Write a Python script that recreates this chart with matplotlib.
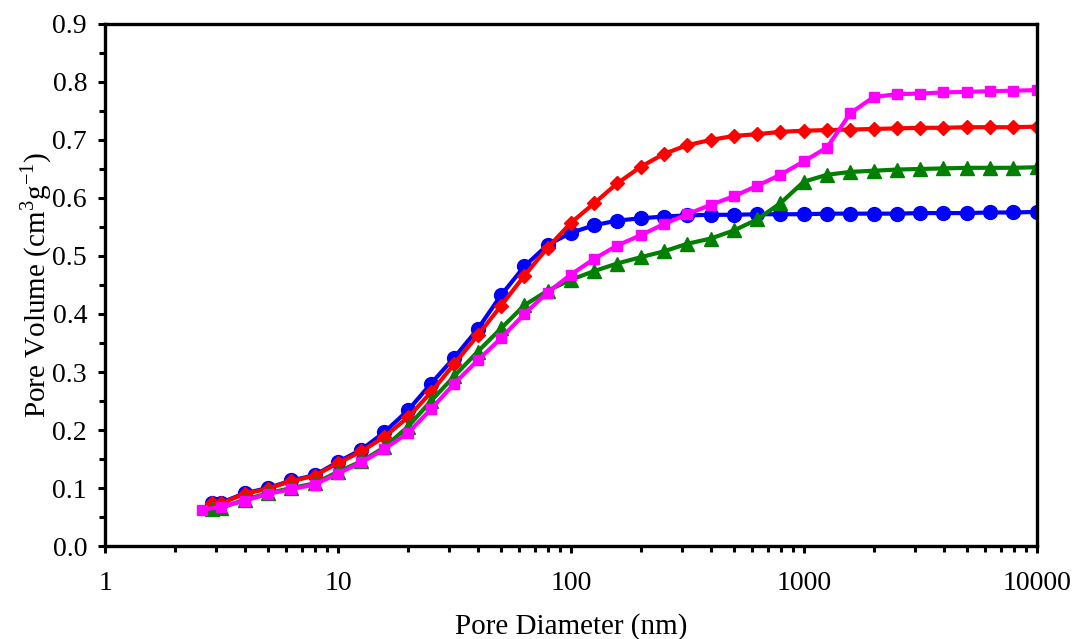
import numpy as np
import matplotlib
matplotlib.use("Agg")
import matplotlib.pyplot as plt
from matplotlib.ticker import MultipleLocator, LogLocator, NullFormatter, FixedLocator

plt.rcParams['font.family'] = ['Liberation Serif', 'DejaVu Serif']
plt.rcParams['mathtext.fontset'] = 'custom'
plt.rcParams['mathtext.rm'] = 'Liberation Serif'

# pore diameters (nm), 10 points per decade from 3.16 to 10000
diam = [3.16, 3.98, 5.01, 6.31, 7.94, 10, 12.6, 15.8, 20.0, 25.1, 31.6, 39.8,
        50.1, 63.1, 79.4, 100, 126, 158, 200, 251, 316, 398, 501, 631, 794,
        1000, 1259, 1585, 1995, 2512, 3162, 3981, 5012, 6310, 7943, 10000]

blue_x = [2.87] + diam
blue_y = [0.075, 0.075, 0.091, 0.100, 0.113, 0.122, 0.145, 0.166, 0.196, 0.234,
          0.280, 0.325, 0.374, 0.432, 0.482, 0.519, 0.540, 0.553, 0.561, 0.565,
          0.568, 0.570, 0.571, 0.571, 0.572, 0.572, 0.572, 0.573, 0.573, 0.573,
          0.573, 0.574, 0.574, 0.574, 0.575, 0.575, 0.576]

red_x = [2.87] + diam
red_y = [0.074, 0.074, 0.090, 0.099, 0.112, 0.121, 0.143, 0.163, 0.188, 0.222,
         0.265, 0.314, 0.363, 0.414, 0.466, 0.514, 0.557, 0.591, 0.625, 0.654,
         0.676, 0.691, 0.700, 0.707, 0.710, 0.714, 0.716, 0.717, 0.718, 0.719,
         0.720, 0.721, 0.721, 0.722, 0.722, 0.722, 0.723]

green_x = [2.87] + diam
green_y = [0.064, 0.066, 0.080, 0.091, 0.100, 0.108, 0.128, 0.146, 0.170, 0.206,
           0.250, 0.293, 0.335, 0.375, 0.415, 0.440, 0.459, 0.474, 0.487, 0.498,
           0.508, 0.521, 0.530, 0.544, 0.563, 0.591, 0.628, 0.640, 0.645, 0.647,
           0.649, 0.650, 0.651, 0.652, 0.652, 0.652, 0.653]

pink_x = [2.6] + diam
pink_y = [0.062, 0.068, 0.078, 0.090, 0.098, 0.106, 0.125, 0.144, 0.167, 0.195,
          0.236, 0.280, 0.320, 0.358, 0.400, 0.437, 0.468, 0.495, 0.518, 0.536,
          0.555, 0.572, 0.588, 0.603, 0.621, 0.640, 0.663, 0.687, 0.746, 0.774,
          0.779, 0.780, 0.782, 0.783, 0.784, 0.785, 0.786]

fig = plt.figure(figsize=(10.72, 6.39), dpi=100)
ax = fig.add_axes([0.098, 0.1455, 0.869, 0.817])

ax.plot(blue_x, blue_y, color='#0000ff', lw=3, marker='o', ms=10)
ax.plot(red_x, red_y, color='#ff0000', lw=3, marker='D', ms=7.5)
ax.plot(green_x, green_y, color='#008000', lw=3, marker='^', ms=10)
ax.plot(pink_x, pink_y, color='#ff00ff', lw=3, marker='s', ms=7.5)

ax.set_xscale('log')
ax.set_xlim(1, 10000)
ax.set_ylim(0, 0.9)
ax.xaxis.set_major_locator(FixedLocator([1, 10, 100, 1000, 10000]))
ax.set_xticklabels(['1', '10', '100', '1000', '10000'])
ax.xaxis.set_minor_locator(LogLocator(base=10, subs=np.arange(2, 10)))
ax.xaxis.set_minor_formatter(NullFormatter())
ax.yaxis.set_major_locator(MultipleLocator(0.1))
ax.yaxis.set_minor_locator(MultipleLocator(0.05))
ax.yaxis.set_major_formatter(matplotlib.ticker.FormatStrFormatter('%.1f'))

for s in ax.spines.values():
    s.set_linewidth(2.4)
ax.tick_params(which='both', direction='out', width=2.2, labelsize=20)
ax.tick_params(which='major', length=5)
ax.tick_params(which='minor', length=4)
ax.tick_params(axis='x', which='major', pad=13)
ax.tick_params(axis='y', which='major', pad=8)

ax.set_xlabel('Pore Diameter (nm)', fontsize=21, labelpad=12)
ax.set_ylabel('Pore Volume (cm$^{3}$g$^{-1}$)', fontsize=21, labelpad=-1)

fig.savefig('out.png', dpi=100)
